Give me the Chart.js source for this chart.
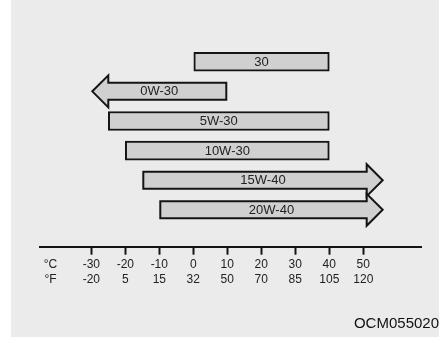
<!DOCTYPE html>
<html><head><meta charset="utf-8">
<script src="https://cdn.jsdelivr.net/npm/chart.js@4.4.1/dist/chart.umd.min.js"></script>
<style>html,body{margin:0;padding:0;background:#fff;overflow:hidden}canvas{display:block}</style>
</head><body>
<canvas id="c" width="439" height="337"></canvas>
<script>
// ---- data ----
const grades = ['30', '0W-30', '5W-30', '10W-30', '15W-40', '20W-40'];
const lowC = [0, -30, -25, -20, -15, -10];
const highC = [40, 10, 40, 40, 56, 56];
const arrowSide = ['none', 'left', 'none', 'none', 'right', 'right'];
const tickC = [-30, -20, -10, 0, 10, 20, 30, 40, 50];
const tickF = [-20, 5, 15, 32, 50, 70, 85, 105, 120];
const unitLabels = ['°C', '°F'];
const unitTickAt = -42;
const figureCode = 'OCM055020';

// ---- style ----
const FILL = '#d0d0d0', EDGE = '#141414', BW = 2, HEAD_LEN = 17, HEAD_HALF = 16;
const FONT = "'Liberation Sans', Arial, Helvetica, sans-serif";

const bgPlugin = {
  id: 'bg',
  beforeDraw(chart) {
    const c = chart.ctx; c.save();
    c.fillStyle = '#ebebeb'; c.fillRect(11, 0, chart.width - 11, chart.height);
    c.restore();
  }
};

const arrowPlugin = {
  id: 'arrows',
  afterDatasetsDraw(chart) {
    const ctx = chart.ctx;
    const meta = chart.getDatasetMeta(0);
    meta.data.forEach((el, i) => {
      const p = el.getProps(['x', 'y', 'base', 'height'], true);
      const l = Math.min(p.x, p.base), r = Math.max(p.x, p.base);
      const t = p.y - p.height / 2, b = p.y + p.height / 2;
      const side = arrowSide[i];
      if (side !== 'none') {
        const h = BW / 2;
        ctx.save();
        ctx.beginPath();
        if (side === 'right') {
          const hb = r - HEAD_LEN;
          ctx.moveTo(l + h, t + h); ctx.lineTo(hb, t + h); ctx.lineTo(hb, p.y - HEAD_HALF);
          ctx.lineTo(r - h, p.y); ctx.lineTo(hb, p.y + HEAD_HALF); ctx.lineTo(hb, b - h); ctx.lineTo(l + h, b - h);
        } else {
          const hb = l + HEAD_LEN;
          ctx.moveTo(r - h, t + h); ctx.lineTo(hb, t + h); ctx.lineTo(hb, p.y - HEAD_HALF);
          ctx.lineTo(l + h, p.y); ctx.lineTo(hb, p.y + HEAD_HALF); ctx.lineTo(hb, b - h); ctx.lineTo(r - h, b - h);
        }
        ctx.closePath();
        ctx.fillStyle = FILL; ctx.fill();
        ctx.lineWidth = BW; ctx.strokeStyle = EDGE; ctx.lineJoin = 'miter'; ctx.stroke();
        ctx.restore();
      }
      ctx.save();
      ctx.fillStyle = '#222'; ctx.font = '13px ' + FONT;
      ctx.textAlign = 'center'; ctx.textBaseline = 'middle';
      ctx.fillText(grades[i], (l + r) / 2, p.y + 0.5);
      ctx.restore();
    });
    ctx.save();
    ctx.fillStyle = '#111'; ctx.font = '15px ' + FONT;
    ctx.textAlign = 'right'; ctx.textBaseline = 'middle';
    ctx.fillText(figureCode, chart.width, 324);
    ctx.restore();
  }
};

new Chart(document.getElementById('c'), {
  type: 'bar',
  data: {
    datasets: [{
      data: lowC.map((lo, i) => ({ x: [lo, highC[i]], y: i })),
      backgroundColor: c => arrowSide[c.dataIndex] === 'none' ? FILL : 'rgba(0,0,0,0)',
      borderColor: c => arrowSide[c.dataIndex] === 'none' ? EDGE : 'rgba(0,0,0,0)',
      borderWidth: BW,
      borderSkipped: false,
      barThickness: 19
    }]
  },
  plugins: [bgPlugin, arrowPlugin],
  options: {
    indexAxis: 'y',
    responsive: false,
    animation: false,
    events: [],
    layout: { padding: { left: 40, right: 17.3, top: 17.3, bottom: 48.3 } },
    plugins: { legend: { display: false }, tooltip: { enabled: false } },
    scales: {
      y: { type: 'linear', reverse: true, offset: false, min: -1.5, max: 6.245, display: false },
      x: {
        type: 'linear', position: 'bottom', min: -45.09, max: 67.18,
        border: { display: true, color: EDGE, width: 2 },
        grid: {
          drawOnChartArea: false, drawTicks: true, tickLength: 8, tickWidth: 2,
          tickColor: c => c.index === 0 ? 'rgba(0,0,0,0)' : EDGE
        },
        afterBuildTicks: s => { s.ticks = [unitTickAt, ...tickC].map(v => ({ value: v })); },
        ticks: {
          autoSkip: false, maxRotation: 0, minRotation: 0, padding: 2, color: '#222',
          font: { family: FONT, size: 12, lineHeight: 1.25 },
          callback: (v, i) => i === 0 ? unitLabels : [String(tickC[i - 1]), String(tickF[i - 1])]
        }
      }
    }
  }
});
</script>
</body></html>
